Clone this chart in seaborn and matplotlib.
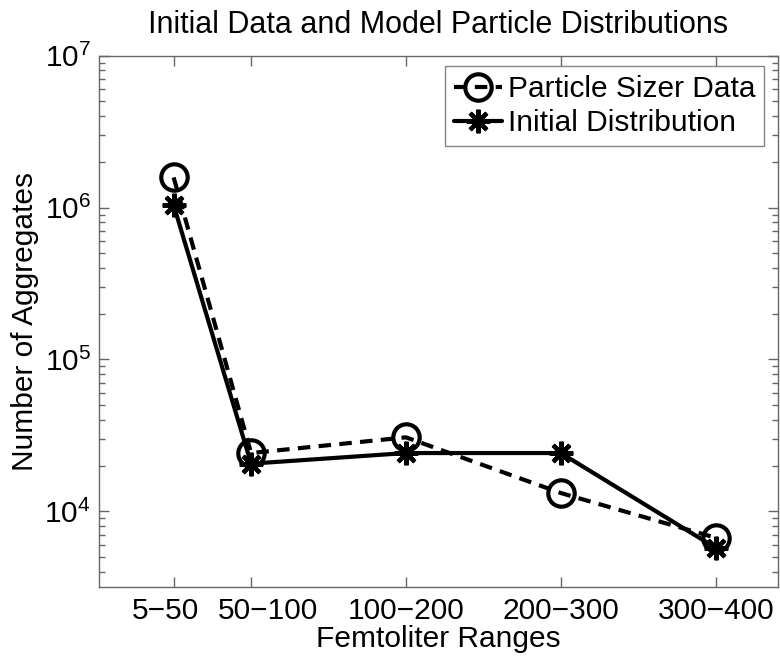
import numpy as np
import pandas as pd
import seaborn as sns
import matplotlib
matplotlib.use('Agg')
import matplotlib.pyplot as plt
from matplotlib.ticker import LogLocator, NullFormatter, FixedLocator, FixedFormatter

# %% Data

# upper bound of each femtoliter range, used as x position
x_pos = [50, 100, 200, 300, 400]
range_labels = ['5\u221250', '50\u2212100', '100\u2212200', '200\u2212300', '300\u2212400']
# where the range labels sit (the first two are pushed apart)
label_pos = [44.6, 111, 200, 300, 400]

sizer_data = [1.58e6, 2.42e4, 3.07e4, 1.32e4, 6.7e3]
initial_dist = [1.04e6, 2.06e4, 2.42e4, 2.42e4, 5.75e3]

# %% Style

sns.set_theme(style='ticks')
plt.rcParams['font.family'] = ['Liberation Sans', 'DejaVu Sans']
plt.rcParams['mathtext.fontset'] = 'custom'
plt.rcParams['mathtext.rm'] = 'Liberation Sans'
plt.rcParams['mathtext.it'] = 'Liberation Sans:italic'
plt.rcParams['mathtext.default'] = 'regular'
plt.rcParams['text.color'] = 'black'
plt.rcParams['axes.labelcolor'] = 'black'
plt.rcParams['xtick.labelcolor'] = 'black'
plt.rcParams['ytick.labelcolor'] = 'black'

df = pd.DataFrame({'x': x_pos, 'sizer': sizer_data, 'init': initial_dist})

# %% Plot

fig = plt.figure(figsize=(7.8, 6.6), dpi=100)
ax = fig.add_axes([0.1273, 0.1102, 0.8697, 0.8054])

sns.lineplot(data=df, x='x', y='sizer', ax=ax, color='black', linewidth=3,
             linestyle=(0, (3, 2)), marker='o', markersize=19,
             markerfacecolor='none', markeredgecolor='black',
             markeredgewidth=3, label='Particle Sizer Data')
sns.lineplot(data=df, x='x', y='init', ax=ax, color='black', linewidth=3,
             marker=(8, 2, 0), markersize=17, markeredgecolor='black',
             markeredgewidth=3, label='Initial Distribution')

ax.set_yscale('log')
ax.set_ylim(10 ** 3.5, 1e7)
ax.set_xlim(2, 440)

ax.yaxis.set_major_locator(LogLocator(base=10, numticks=10))
ax.yaxis.set_minor_locator(LogLocator(base=10, subs=np.arange(2, 10), numticks=20))
ax.yaxis.set_minor_formatter(NullFormatter())

# tick marks at the data positions, labels placed separately
ax.set_xticks(x_pos)
ax.set_xticklabels([''] * len(x_pos))
ax.xaxis.remove_overlapping_locs = False
ax.xaxis.set_minor_locator(FixedLocator(label_pos))
ax.xaxis.set_minor_formatter(FixedFormatter(range_labels))
ax.tick_params(axis='x', which='minor', length=0, labelsize=21.5, pad=7)

ax.tick_params(axis='both', which='both', direction='in', top=True, right=True,
               color='#666666', width=1)
ax.tick_params(axis='both', which='major', length=7, labelsize=21.5)
ax.tick_params(axis='y', which='minor', length=4)
ax.tick_params(axis='y', which='major', pad=6)
for sp in ax.spines.values():
    sp.set_color('#666666')
    sp.set_linewidth(1)

ax.set_xlabel('Femtoliter Ranges', fontsize=21.5, labelpad=0)
ax.set_ylabel('Number of Aggregates', fontsize=21.5, labelpad=4)
ax.set_title('Initial Data and Model Particle Distributions', fontsize=22, pad=16)

leg = ax.legend(loc='upper right', bbox_to_anchor=(0.98, 0.98), fontsize=21.5,
                frameon=True, fancybox=False, handlelength=1.6,
                handletextpad=0.2, borderpad=0.3, labelspacing=0.2,
                borderaxespad=0)
leg.get_frame().set_edgecolor('#666666')
leg.get_frame().set_linewidth(1)

fig.savefig('out.png', dpi=100)
